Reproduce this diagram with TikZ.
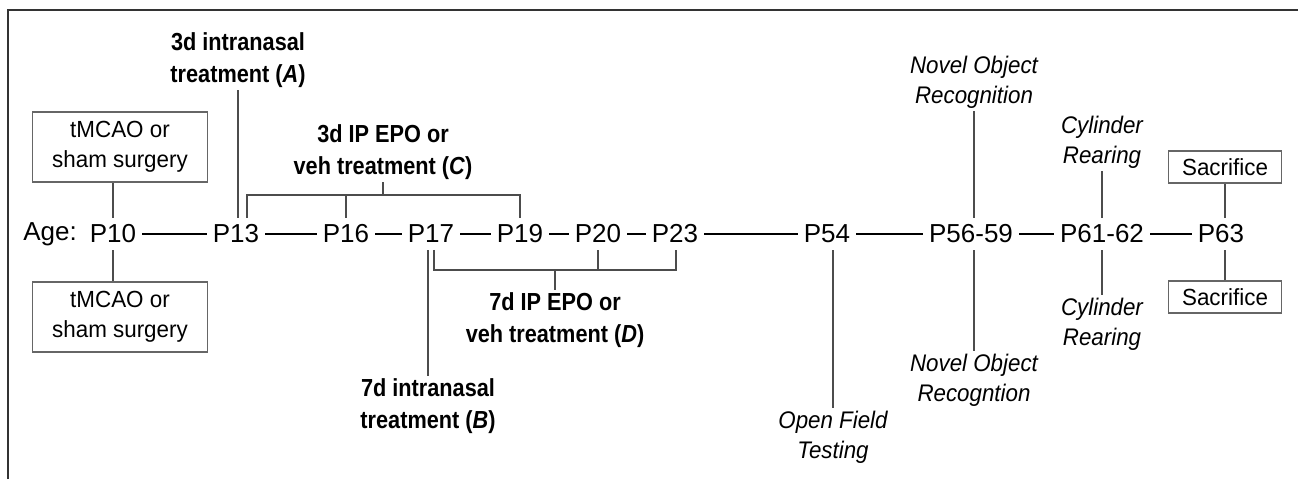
\documentclass[tikz,border=0pt]{standalone}
\usepackage{fontspec}
\setmainfont{Liberation Sans}
\newfontfamily\narrowsans[FakeStretch=0.88]{Liberation Sans}
\newfontfamily\testsans[FakeStretch=0.93]{Liberation Sans}
\newfontfamily\boxsans[FakeStretch=0.96]{Liberation Sans}
\usepackage{tikz}
\usetikzlibrary{positioning,calc}

\begin{document}
\begin{tikzpicture}[
    x=0.75pt, y=-0.75pt,
    age/.style={inner xsep=4.5pt, inner ysep=5pt, font=\fontsize{19.5}{23}\selectfont},
    box/.style={rectangle, draw=black!60, line width=0.8pt, align=center, font=\boxsans\fontsize{17.5}{22.5}\selectfont},
    treat/.style={align=center, inner sep=2pt, font=\narrowsans\bfseries\fontsize{18.5}{24}\selectfont},
    test/.style={align=center, inner sep=2pt, font=\testsans\itshape\fontsize{18}{22.5}\selectfont},
    tline/.style={line width=1.5pt},
    link/.style={line width=0.8pt, black!70}
]
    \useasboundingbox (0,0) rectangle (1298,479);
    \draw[line width=1.5pt, black!80] (8,479) -- (8,10) -- (1298,10);

    % time line
    \node[age] (age) at (50,234) {Age:};
    \node[age] (p10) at (113,234) {P10};
    \node[age] (p13) at (236,234) {P13};
    \node[age] (p16) at (346,234) {P16};
    \node[age] (p17) at (431,234) {P17};
    \node[age] (p19) at (520,234) {P19};
    \node[age] (p20) at (598,234) {P20};
    \node[age] (p23) at (675,234) {P23};
    \node[age] (p54) at (827,234) {P54};
    \node[age] (p56) at (971,234) {P56-59};
    \node[age] (p61) at (1102,234) {P61-62};
    \node[age] (p63) at (1221,234) {P63};

    \draw[tline] (p10) -- (p13);
    \draw[tline] (p13) -- (p16);
    \draw[tline] (p16) -- (p17);
    \draw[tline] (p17) -- (p19);
    \draw[tline] (p19) -- (p20);
    \draw[tline] (p20) -- (p23);
    \draw[tline] (p23) -- (p54);
    \draw[tline] (p54) -- (p56);
    \draw[tline] (p56) -- (p61);
    \draw[tline] (p61) -- (p63);

    % surgery and sacrifice
    \node[box, minimum width=131pt, minimum height=52.5pt] (surg1) at (120,147) {tMCAO or\\sham surgery};
    \node[box, minimum width=131pt, minimum height=52.5pt] (surg2) at (120,317) {tMCAO or\\sham surgery};
    \node[box, minimum width=85pt, minimum height=24pt] (sac1) at (1225,167) {Sacrifice};
    \node[box, minimum width=85pt, minimum height=24pt] (sac2) at (1225,297) {Sacrifice};

    \draw[link] (p10.north) -- (p10.north |- surg1.south);
    \draw[link] (p10.south) -- (p10.south |- surg2.north);
    \draw[link] (sac1.south) -- (sac1.south |- p63.north);
    \draw[link] (sac2.north) -- (sac2.north |- p63.south);

    % treatments
    \node[treat] (trA) at (238,60) {3d intranasal\\treatment (\textit{A})};
    \draw[link] (trA.south) -- (trA.south |- p13.north);

    \node[treat] (trC) at (383,152) {3d IP EPO or\\veh treatment (\textit{C})};
    \coordinate (cL) at (247,195);
    \coordinate (cR) at (520,195);
    \draw[link] (p13.north -| cL) -- (cL) -- (cR) -- (p19.north);
    \draw[link] (cL -| p16) -- (p16.north);
    \draw[link] (trC.south) -- (trC.south |- cL);

    \node[treat] (trD) at (555,320) {7d IP EPO or\\veh treatment (\textit{D})};
    \coordinate (dL) at (434,270);
    \coordinate (dR) at (676,270);
    \draw[link] (p17.south -| dL) -- (dL) -- (dR) -- (dR |- p23.south);
    \draw[link] (dL -| p20) -- (p20.south);
    \draw[link] (trD.north) -- (trD.north |- dL);

    \node[treat] (trB) at (428,406) {7d intranasal\\treatment (\textit{B})};
    \draw[link] (trB.north) -- (trB.north |- p17.south);

    % behaviour tests
    \node[test] (open) at (833,437) {Open Field\\Testing};
    \draw[link] (open.north) -- (open.north |- p54.south);

    \node[test] (nor1) at (974,82) {Novel Object\\Recognition};
    \node[test] (nor2) at (974,380) {Novel Object\\Recogntion};
    \draw[link] (nor1.south) -- (nor1.south |- p56.north);
    \draw[link] (nor2.north) -- (nor2.north |- p56.south);

    \node[test] (cyl1) at (1102,142) {Cylinder\\Rearing};
    \node[test] (cyl2) at (1102,324) {Cylinder\\Rearing};
    \draw[link] (cyl1.south) -- (cyl1.south |- p61.north);
    \draw[link] (cyl2.north) -- (cyl2.north |- p61.south);
\end{tikzpicture}
\end{document}
